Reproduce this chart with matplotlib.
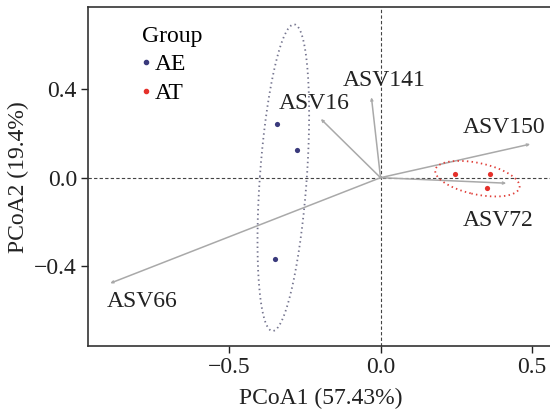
"""PCoA biplot of AE / AT samples with ASV loading arrows."""

import numpy as np
import matplotlib
matplotlib.use("Agg")
import matplotlib.pyplot as plt
from matplotlib.lines import Line2D

# sample scores
GROUPS = ["AE", "AT"]
AE_X = [-0.340, -0.275, -0.347]
AE_Y = [0.243, 0.124, -0.367]
AT_X = [0.245, 0.362, 0.352]
AT_Y = [0.017, 0.017, -0.048]

# ASV loadings (arrow tips)
ASV_NAMES = ["ASV150", "ASV72", "ASV16", "ASV141", "ASV66"]
ASV_X = [0.494, 0.415, -0.197, -0.030, -0.892]
ASV_Y = [0.152, -0.025, 0.266, 0.364, -0.478]

X_TICKS = [-0.5, 0.0, 0.5]
Y_TICKS = [-0.4, 0.0, 0.4]
X_LABEL = "PCoA1 (57.43%)"
Y_LABEL = "PCoA2 (19.4%)"

FS = 17
_COLORS = {"AE": "#3a3a7c", "AT": "#e5312b"}
_ELLIPSE_COLORS = {"AE": "#75758f", "AT": "#e0403a"}
# label offsets from arrow tip, in points
_LABEL_OFFSETS = {
    "ASV150": (-19, 12),
    "ASV72": (-6, -27),
    "ASV16": (-5, 11),
    "ASV141": (9, 12),
    "ASV66": (23, -13),
}


def _ellipse(x, y, level=0.9, n=200):
    x, y = np.asarray(x), np.asarray(y)
    cov = np.cov(x, y)
    vals, vecs = np.linalg.eigh(cov)
    r = np.sqrt(-2.0 * np.log(1.0 - level))
    t = np.linspace(0, 2 * np.pi, n)
    circ = np.vstack([np.cos(t), np.sin(t)]) * (r * np.sqrt(vals))[:, None]
    pts = vecs @ circ
    return x.mean() + pts[0], y.mean() + pts[1]


def main():
    plt.rcParams["font.family"] = ["Liberation Serif", "DejaVu Serif"]

    fig = plt.figure(figsize=(5.5, 4.09), dpi=100)
    ax = fig.add_axes([0.16, 0.154, 0.846, 0.828])

    ax.axhline(0, color="#444444", lw=0.8, ls=(0, (3, 2)), zorder=1)
    ax.axvline(0, color="#444444", lw=0.8, ls=(0, (3, 2)), zorder=1)

    for name, tx, ty in zip(ASV_NAMES, ASV_X, ASV_Y):
        ax.annotate(
            "", xy=(tx, ty), xytext=(0, 0),
            arrowprops=dict(arrowstyle="->,head_length=0.15,head_width=0.07",
                            color="#a9a9a9", lw=1.1, shrinkA=0, shrinkB=0),
            zorder=2,
        )
        ax.annotate(name, xy=(tx, ty), xytext=_LABEL_OFFSETS[name],
                    textcoords="offset points", ha="center", va="center",
                    fontsize=FS, color="#222222")

    data = {"AE": (AE_X, AE_Y), "AT": (AT_X, AT_Y)}
    for g in GROUPS:
        gx, gy = data[g]
        ex, ey = _ellipse(gx, gy)
        ax.plot(ex, ey, color=_ELLIPSE_COLORS[g], lw=1.3, ls=(0, (0.8, 1.8)),
                zorder=3)
        ax.scatter(gx, gy, s=14, color=_COLORS[g], zorder=4, linewidths=0)

    handles = [Line2D([], [], ls="", marker="o", ms=3, color=_COLORS[g],
                      label=g) for g in GROUPS]
    leg = ax.legend(handles=handles, title="Group", loc="upper left",
                    bbox_to_anchor=(0.08, 0.995), frameon=False,
                    fontsize=FS, title_fontsize=FS, handlelength=0.4,
                    handletextpad=0.15, labelspacing=0.3, borderpad=0.2)
    leg._legend_box.align = "left"

    ax.set_xlim(-0.965, 0.57)
    ax.set_ylim(-0.762, 0.771)
    ax.set_xticks(X_TICKS)
    ax.set_yticks(Y_TICKS)
    ax.set_xticklabels([f"{v:.1f}".replace("-", "\u2212") for v in X_TICKS])
    ax.set_yticklabels([f"{v:.1f}".replace("-", "\u2212") for v in Y_TICKS])
    ax.tick_params(labelsize=FS, length=5, width=1, colors="#222222", pad=3)
    ax.set_xlabel(X_LABEL, fontsize=FS, color="#222222", labelpad=7)
    ax.set_ylabel(Y_LABEL, fontsize=FS, color="#222222", labelpad=4)
    for sp in ax.spines.values():
        sp.set_linewidth(1.2)
        sp.set_color("#333333")

    fig.savefig("out.png", dpi=100)
    plt.close(fig)


if __name__ == "__main__":
    main()
